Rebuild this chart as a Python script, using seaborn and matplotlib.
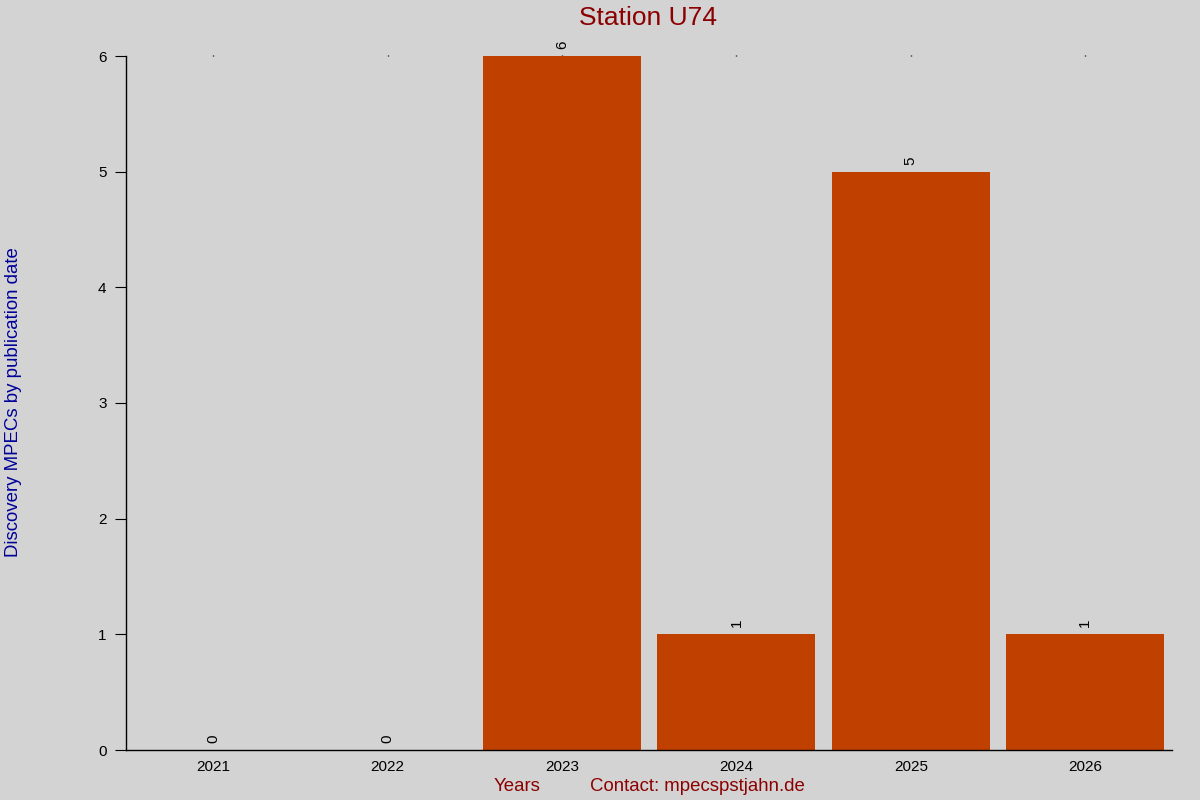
import pandas as pd
import matplotlib
matplotlib.use("Agg")
import matplotlib.pyplot as plt
import seaborn as sns

# data
years = ["2021", "2022", "2023", "2024", "2025", "2026"]
counts = [0, 0, 6, 1, 5, 1]

df = pd.DataFrame({"Year": years, "Count": counts})

sns.set_style("ticks")
plt.rcParams['font.family'] = ['Liberation Sans', 'DejaVu Sans']

bg = "#d3d3d3"
fig = plt.figure(figsize=(12, 8), dpi=100, facecolor=bg)
ax = fig.add_axes([0.105, 0.0625, 0.872, 0.8675])
ax.set_facecolor(bg)

sns.barplot(data=df, x="Year", y="Count", color="#c04000", saturation=1,
            width=0.906, linewidth=0, edgecolor="none", ax=ax)

for p, v in zip(ax.patches, counts):
    ax.text(p.get_x() + p.get_width() / 2, v + 0.06, str(v), rotation=90,
            ha="center", va="bottom", fontsize=11, color="black")

ax.set_ylim(0, 6)
ax.set_xlim(-0.5, 5.5)
ax.set_yticks(range(7))
ax.tick_params(axis="y", direction="out", length=8, labelsize=11, pad=6,
               colors="black")
ax.tick_params(axis="x", bottom=False, top=True, length=1, width=1,
               labelsize=11, pad=6, colors="black")
for s in ["top", "right"]:
    ax.spines[s].set_visible(False)
for s in ["left", "bottom"]:
    ax.spines[s].set_linewidth(1)
    ax.spines[s].set_color("black")

ax.set_xlabel("")
ax.set_ylabel("")
fig.text(0.54, 0.977, "Station U74", ha="center", va="center",
         fontsize=19, color="#8b0000")
fig.text(0.011, 0.497, "Discovery MPECs by publication date", rotation=90,
         ha="center", va="center", fontsize=13.4, color="#000099")
fig.text(0.431, 0.017, "Years", ha="center", va="center",
         fontsize=13.4, color="#8b0000")
fig.text(0.581, 0.017, "Contact: mpecspstjahn.de", ha="center", va="center",
         fontsize=13.4, color="#8b0000")

fig.savefig("out.png", dpi=100, facecolor=bg)
